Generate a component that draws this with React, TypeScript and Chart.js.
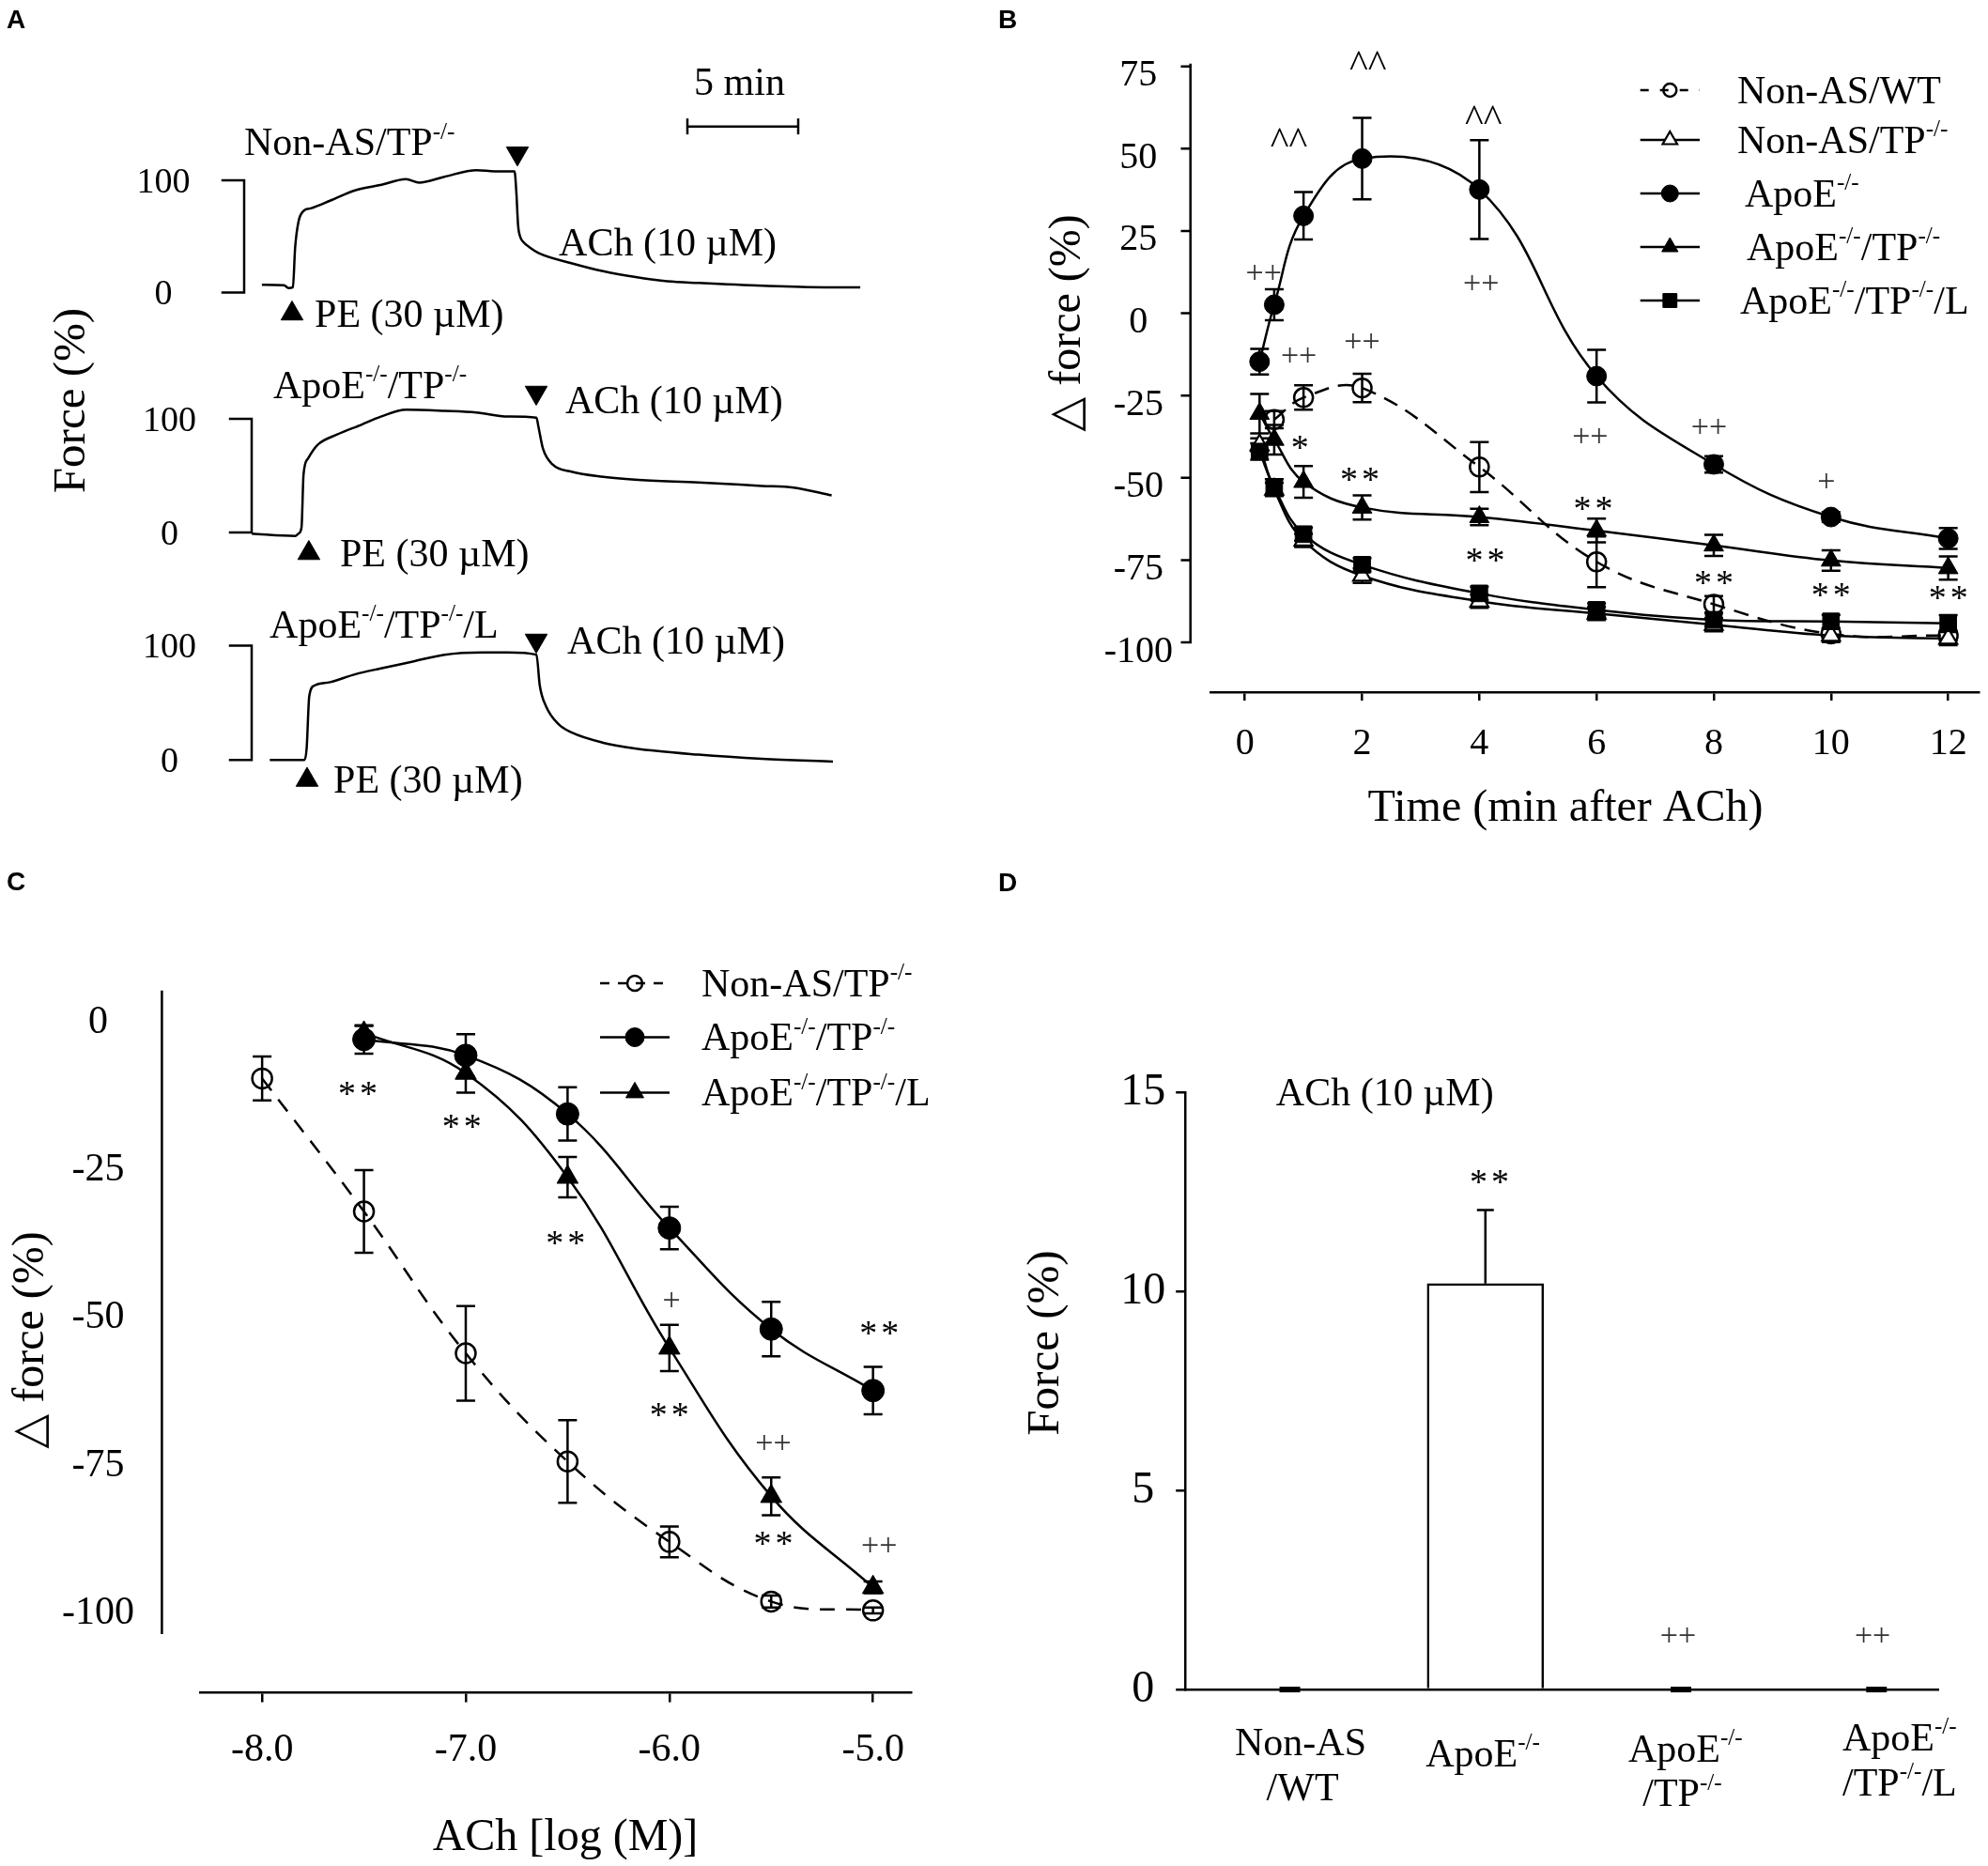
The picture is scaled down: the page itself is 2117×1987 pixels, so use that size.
import React, { useEffect, useRef } from "react";
import { Chart, registerables } from "chart.js";

Chart.register(...registerables);

const PAGE_W = 2117;
const PAGE_H = 1987;
const SERIF = '"Liberation Serif", "Times New Roman", "DejaVu Serif", serif';
const SANS = '"Liberation Sans", Arial, sans-serif';

Chart.defaults.font.family = SERIF;
Chart.defaults.color = "#000";

// ================= Panel A: force traces (time in min, force in %) =================
const aTimeNonAS = [0.8, 1.8, 2.0, 2.2, 2.3, 2.45, 2.7, 3.0, 3.9, 5.0, 6.2, 7.3, 7.9, 9.0, 10.5, 11.3, 12.2, 12.28, 12.36, 12.45, 12.6, 12.9, 13.3, 14.8, 16.2, 17.6, 19.1, 20.5, 23.4, 26.2, 27.8];
const aForceNonAS = [7, 6.5, 4, 4.7, 40, 63, 73, 75, 82, 91, 96, 101, 98, 103, 109, 108, 108, 90, 60, 50, 45, 40, 35, 26, 19, 14, 10, 8.5, 6, 4.7, 4.7];
const aTimeApoE = [0, 1.97, 2.11, 2.25, 2.34, 2.54, 2.97, 3.83, 4.97, 5.83, 6.98, 8.7, 10.13, 11.56, 12.85, 12.94, 13.14, 13.57, 14.43, 15.86, 17.29, 20.16, 23.02, 24.46, 26.17];
const aForceApoE = [-1, -3, -1, 4.6, 51, 65, 77, 86, 95, 102, 108, 107, 105.6, 102, 101, 93, 74, 60, 53.5, 49, 46.5, 44, 41, 39.5, 32.6];
const aTimeApoEL = [0.82, 2.39, 2.48, 2.6, 2.83, 3.54, 4.69, 5.83, 7.27, 8.7, 10.42, 11.56, 12.85, 13.0, 13.28, 13.86, 14.43, 15.86, 17.29, 20.16, 23.02, 26.23];
const aForceApoEL = [0, 0, 10, 56, 65, 68, 75, 80, 86, 92, 94, 94, 92, 65, 47, 31, 24, 15, 10, 4.6, 1, -1.4];
const aTicks = [0, 100];
const aEventRotation = [0, 180];
const aEventTimes1 = [2.16, 12.33];
const aEventLevels1 = [-18.8, 124];
const aEventTimes2 = [2.58, 12.84];
const aEventLevels2 = [-18.2, 123.1];
const aEventTimes3 = [2.5, 12.84];
const aEventLevels3 = [-17.5, 104.4];
const aScaleBarTimes = [20, 25];
const aScaleBarLevels = [148, 148];

// ================= Panel B: time course =================
const bTimes = [0.25, 0.5, 1, 2, 4, 6, 8, 10, 12];
const bWT = [null, -32.3, -25.6, -22.7, -46.7, -75.5, -88.4, -97.4, -97.9];
const bWTErr = [0, 2.6, 3.7, 4.3, 7.6, 7.7, 2.5, 1.5, 1.5];
const bNonTP = [-40, -53.5, -69, -79.7, -87.5, -91.2, -94.6, -97.9, -98.8];
const bNonTPErr = [2, 2, 2, 2.2, 2, 2, 2, 2, 2];
const bApoE = [-14.7, 2.6, 29.6, 47, 37.6, -19.1, -45.9, -61.9, -68.4];
const bApoEErr = [3.9, 4.7, 7.2, 12.4, 15, 8, 2.5, 1.5, 3.2];
const bApoETP = [-30.5, -38.4, -51.2, -59, -61.9, -66, -70.5, -75.1, -77.4];
const bApoETPErr = [6, 4.5, 4.8, 3.7, 2.5, 3.6, 3.2, 3.1, 3.5];
const bApoETPL = [-42, -52.9, -67.1, -76.4, -85.1, -90.1, -93.1, -93.6, -94.2];
const bApoETPLErr = [2.5, 2.5, 2, 2, 2, 2, 2, 2, 2.5];
const bXTicks = [0, 2, 4, 6, 8, 10, 12];
const bYTicks = [75, 50, 25, 0, -25, -50, -75, -100];
const bCaret: [number, number][] = [[0.75, 54.7], [2.1, 78], [4.07, 61.4]];
const bPlus2: [number, number][] = [[0.32, 11.8], [0.92, -13.4], [2.0, -9.0], [4.03, 8.6], [5.89, -37.8], [7.92, -35.1]];
const bPlus1: [number, number][] = [[9.92, -51.5]];
const bStar1: [number, number][] = [[0.94, -39.4]];
const bStar2: [number, number][] = [[1.96, -49.0], [4.1, -73.5], [5.94, -57.9], [8.0, -80.3], [10.0, -84.1], [12.0, -85.0]];

// ================= Panel C: concentration-response =================
const cLogNonAS = [-8, -7.5, -7, -6.5, -6, -5.5, -5];
const cNonAS = [-9.5, -32, -56, -74.3, -87.9, -98, -99.5];
const cNonASErr = [3.7, 7, 8, 7, 2.6, 1, 0.5];
const cLogApoE = [-7.5, -7, -6.5, -6, -5.5, -5];
const cApoETP = [-2.9, -5.6, -15.5, -34.8, -51.9, -62.3];
const cApoETPErr = [2.4, 3.6, 4.5, 3.6, 4.6, 4];
const cApoETPL = [-1.8, -8.6, -26.2, -55.1, -80.2, -95.6];
const cApoETPLErr = [1.2, 3.3, 3.4, 3.9, 3.2, 1];
const cXTicks = [-8, -7, -6, -5];
const cYTicks = [0, -25, -50, -75, -100];
const cStar2: [number, number][] = [[-7.53, -11.2], [-7.02, -16.9], [-6.51, -36.5], [-6.0, -65.6], [-5.49, -87.3], [-4.97, -51.8]];
const cPlus1: [number, number][] = [[-5.99, -47.2]];
const cPlus2: [number, number][] = [[-5.49, -71.4], [-4.97, -88.8]];

// ================= Panel D: bar chart =================
const dCategoryPos = [0, 1, 2, 3];
const dForce = [0, 10.2, 0, 0];
const dForceErr = [0, 1.85, 0, 0];
const dYTicks = [0, 5, 10, 15];
const dStar2: [number, number][] = [[1.02, 12.87]];
const dPlus2: [number, number][] = [[1.985, 1.31], [2.98, 1.31]];

// ================= helpers =================
type Note = {
  text: string; x: number; y: number; size: number;
  align?: "left" | "center" | "right"; k?: number; rot?: number; px?: boolean;
  color?: string; family?: string; weight?: string; ls?: number;
};

function parseRich(s: string) {
  const out: { t: string; sup: boolean }[] = [];
  const re = /\^\{([^}]*)\}/g;
  let last = 0;
  let m: RegExpExecArray | null;
  while ((m = re.exec(s))) {
    if (m.index > last) out.push({ t: s.slice(last, m.index), sup: false });
    out.push({ t: m[1], sup: true });
    last = re.lastIndex;
  }
  if (last < s.length) out.push({ t: s.slice(last), sup: false });
  return out;
}

function drawRich(ctx: any, n: Note, px: number, py: number) {
  const segs = parseRich(n.text);
  const fam = n.family || SERIF;
  const wt = n.weight || "normal";
  const supSize = n.size * 0.6;
  const fonts = segs.map((s) => `${wt} ${s.sup ? supSize : n.size}px ${fam}`);
  ctx.save();
  if (n.ls) ctx.letterSpacing = `${n.ls}px`;
  let total = 0;
  const widths = segs.map((s, i) => {
    ctx.font = fonts[i];
    const w = ctx.measureText(s.t).width;
    total += w;
    return w;
  });
  if (n.ls) total -= n.ls;
  ctx.translate(px, py);
  if (n.rot) ctx.rotate((n.rot * Math.PI) / 180);
  let cx = n.align === "center" ? -total / 2 : n.align === "right" ? -total : 0;
  const base = (n.k ?? 0.33) * n.size;
  ctx.fillStyle = n.color || "#000";
  ctx.textAlign = "left";
  ctx.textBaseline = "alphabetic";
  segs.forEach((s, i) => {
    ctx.font = fonts[i];
    ctx.fillText(s.t, cx, s.sup ? base - n.size * 0.42 : base);
    cx += widths[i];
  });
  ctx.restore();
}

function notesPlugin(items: Note[]) {
  return {
    id: "notes",
    afterDatasetsDraw(chart: any) {
      const ctx = chart.ctx;
      for (const n of items) {
        const px = n.px ? n.x : chart.scales.x.getPixelForValue(n.x);
        const py = n.px ? n.y : chart.scales.y.getPixelForValue(n.y);
        drawRich(ctx, n, px, py);
      }
    },
  };
}

function drawMarker(ctx: any, style: string, x: number, y: number, r: number, fill: string, lw: number) {
  ctx.beginPath();
  if (style === "circle") {
    ctx.arc(x, y, r, 0, Math.PI * 2);
  } else if (style === "triangle") {
    for (let k = 0; k < 3; k++) {
      const a = -Math.PI / 2 + (k * 2 * Math.PI) / 3;
      const px = x + Math.cos(a) * r;
      const py = y + Math.sin(a) * r;
      if (k === 0) ctx.moveTo(px, py);
      else ctx.lineTo(px, py);
    }
    ctx.closePath();
  } else {
    const s = r * Math.SQRT1_2;
    ctx.rect(x - s, y - s, 2 * s, 2 * s);
  }
  ctx.fillStyle = fill;
  ctx.fill();
  ctx.lineWidth = lw;
  ctx.strokeStyle = "#000";
  ctx.stroke();
}

type LegendRow = { ds: number; y: number; text: string; xt: number; r: number; dash?: number[] };
function legendPlugin(rows: LegendRow[], x1: number, x2: number, xm: number, size: number) {
  return {
    id: "customLegend",
    afterDatasetsDraw(chart: any) {
      const ctx = chart.ctx;
      rows.forEach((row) => {
        const ds = chart.data.datasets[row.ds];
        ctx.save();
        ctx.strokeStyle = "#000";
        ctx.lineWidth = ds.borderWidth;
        ctx.setLineDash(row.dash || []);
        ctx.beginPath();
        ctx.moveTo(x1, row.y);
        ctx.lineTo(x2, row.y);
        ctx.stroke();
        ctx.setLineDash([]);
        drawMarker(ctx, ds.pointStyle, xm, row.y, row.r, ds.pointBackgroundColor, ds.pointBorderWidth);
        ctx.restore();
        drawRich(ctx, { text: row.text, x: 0, y: 0, size, align: "left" }, row.xt, row.y);
      });
    },
  };
}

const errorBarPlugin = {
  id: "errorBars",
  beforeDatasetsDraw(chart: any) {
    const ctx = chart.ctx;
    chart.data.datasets.forEach((ds: any, i: number) => {
      if (!ds.errors) return;
      const meta = chart.getDatasetMeta(i);
      const ys = chart.scales[meta.yAxisID];
      ctx.save();
      ctx.strokeStyle = "#000";
      ctx.setLineDash([]);
      ctx.lineCap = "butt";
      meta.data.forEach((el: any, j: number) => {
        const d = ds.data[j];
        if (!d || d.y == null) return;
        const e = ds.errors[j];
        const x = el.x;
        if (!e) {
          if (ds.zeroCap) {
            const y0 = ys.getPixelForValue(d.y);
            ctx.lineWidth = ds.zeroCap.w;
            ctx.beginPath();
            ctx.moveTo(x - ds.zeroCap.half, y0);
            ctx.lineTo(x + ds.zeroCap.half, y0);
            ctx.stroke();
          }
          return;
        }
        const cap = ds.errCap ?? 10;
        ctx.lineWidth = ds.errWidth ?? 2.5;
        const yTop = ys.getPixelForValue(d.y + e);
        const yBot = ds.errDir === "up" ? ys.getPixelForValue(d.y) : ys.getPixelForValue(d.y - e);
        ctx.beginPath();
        ctx.moveTo(x, yTop);
        ctx.lineTo(x, yBot);
        ctx.moveTo(x - cap, yTop);
        ctx.lineTo(x + cap, yTop);
        if (ds.errDir !== "up") {
          ctx.moveTo(x - cap, yBot);
          ctx.lineTo(x + cap, yBot);
        }
        ctx.stroke();
      });
      ctx.restore();
    });
  },
};

function yAxisLinePlugin(x: number, from: number, to: number, ticks: number[], tickLen: number) {
  return {
    id: "yAxisLine",
    beforeDatasetsDraw(chart: any) {
      const ys = chart.scales.y;
      const ctx = chart.ctx;
      ctx.save();
      ctx.strokeStyle = "#000";
      ctx.lineWidth = 2.5;
      ctx.lineCap = "square";
      ctx.beginPath();
      ctx.moveTo(x, ys.getPixelForValue(to));
      ctx.lineTo(x, ys.getPixelForValue(from));
      ticks.forEach((t) => {
        const p = ys.getPixelForValue(t);
        ctx.moveTo(x - tickLen, p);
        ctx.lineTo(x, p);
      });
      ctx.stroke();
      ctx.restore();
    },
  };
}

const pts = (xs: number[], ys: (number | null)[]) => xs.map((x, i) => ({ x, y: ys[i] }));

function baseOptions(l: number, r: number, t: number, b: number) {
  return {
    responsive: false,
    animation: false,
    devicePixelRatio: 1,
    events: [],
    layout: { padding: { left: l, right: r, top: t, bottom: b }, autoPadding: false },
    plugins: { legend: { display: false }, tooltip: { enabled: false } },
  };
}

function series(xs: number[], ys: (number | null)[], errs: number[], o: any) {
  return {
    type: "line",
    data: pts(xs, ys),
    errors: errs,
    errCap: o.cap ?? 10,
    errWidth: 2.5,
    borderColor: "#000",
    borderWidth: 2.5,
    borderDash: o.dash || [],
    tension: 0.4,
    pointStyle: o.style,
    pointRadius: o.r,
    pointBackgroundColor: o.fill,
    pointBorderColor: "#000",
    pointBorderWidth: o.bw ?? 1,
  };
}

const sc = (items: [number, number][], text: string, size: number, k: number, extra: any = {}): Note[] =>
  items.map(([x, y]) => ({ text, x, y, size, k, align: "center", ...extra }));

const STAR = { size: 38, k: 0.46, ls: 4 };
const PLUS = { size: 34, k: 0.26, color: "#333" };

// ================= Panel A charts =================
function traceConfig(opts: {
  times: number[]; force: number[]; evT: number[]; evL: number[];
  left: number; top100: number; zero: number; pad: number; notes: Note[]; scaleBar?: boolean;
}) {
  const datasets: any[] = [
    {
      type: "line",
      data: pts(opts.times, opts.force),
      borderColor: "#000",
      borderWidth: 2.5,
      pointRadius: 0,
      cubicInterpolationMode: "monotone",
      clip: false,
    },
    {
      type: "line",
      data: pts(opts.evT, opts.evL),
      showLine: false,
      pointStyle: "triangle",
      pointRadius: 13.5,
      pointRotation: aEventRotation,
      pointBackgroundColor: "#000",
      pointBorderColor: "#000",
      pointBorderWidth: 1,
      clip: false,
    },
  ];
  if (opts.scaleBar) {
    datasets.push({
      type: "line",
      data: pts(aScaleBarTimes, aScaleBarLevels),
      borderColor: "#000",
      borderWidth: 2.5,
      pointStyle: "line",
      pointRotation: 90,
      pointRadius: 8.5,
      pointBorderWidth: 2.5,
      pointBorderColor: "#000",
      clip: false,
    });
  }
  const yW = 150;
  const yMin = -35;
  const yMax = 165;
  const ppu = (opts.zero - opts.top100) / 100;
  const top = opts.zero - yMax * ppu;
  const bottom = opts.zero - yMin * ppu;
  const right = opts.left + 30 * 23.6;
  return {
    type: "line",
    data: { datasets },
    options: {
      ...baseOptions(opts.left - yW, PAGE_W - right, top, PAGE_H - bottom),
      scales: {
        x: { type: "linear", min: 0, max: 30, display: false },
        y: {
          type: "linear",
          min: yMin,
          max: yMax,
          afterBuildTicks: (s: any) => { s.ticks = aTicks.map((v) => ({ value: v })); },
          afterFit: (s: any) => { s.width = yW; },
          grid: { display: false },
          border: { display: false },
          ticks: { crossAlign: "center", padding: opts.pad + 23, labelOffset: 3, font: { size: 38, family: SERIF }, color: "#000", callback: (v: any) => String(v) },
        },
      },
    },
    plugins: [yAxisLinePlugin(opts.left, 0, 100, aTicks, 23), notesPlugin(opts.notes)],
  };
}

const a1Notes: Note[] = [
  { text: "Non-AS/TP^{-/-}", x: 0.0, y: 134, size: 42 },
  { text: "ACh (10 µM)", x: 14.2, y: 44.8, size: 42 },
  { text: "PE (30 µM)", x: 3.18, y: -18.8, size: 42 },
  { text: "5 min", x: 22.35, y: 188, size: 42, align: "center" },
];
const a2Notes: Note[] = [
  { text: "ApoE^{-/-}/TP^{-/-}", x: 0.97, y: 129.8, size: 42 },
  { text: "ACh (10 µM)", x: 14.15, y: 116.1, size: 42 },
  { text: "PE (30 µM)", x: 3.98, y: -18.2, size: 42 },
  { text: "Force (%)", x: 74, y: 426.5, size: 49, align: "center", rot: -90, px: true },
  { text: "A", x: 7, y: 20, size: 28, weight: "bold", family: SANS, k: 0.36, px: true },
];
const a3Notes: Note[] = [
  { text: "ApoE^{-/-}/TP^{-/-}/L", x: 0.81, y: 118.4, size: 42 },
  { text: "ACh (10 µM)", x: 14.24, y: 104.4, size: 42 },
  { text: "PE (30 µM)", x: 3.69, y: -17.5, size: 42 },
];

// ================= Panel B chart =================
function configB() {
  const datasets = [
    series(bTimes, bApoE, bApoEErr, { style: "circle", r: 10.5, fill: "#000" }),
    series(bTimes, bApoETP, bApoETPErr, { style: "triangle", r: 12, fill: "#000" }),
    series(bTimes, bApoETPL, bApoETPLErr, { style: "rect", r: 12.5, fill: "#000" }),
    series(bTimes, bNonTP, bNonTPErr, { style: "triangle", r: 11, fill: "#fff", bw: 2.2 }),
    series(bTimes, bWT, bWTErr, { style: "circle", r: 10, fill: "rgba(0,0,0,0)", bw: 2.5, dash: [16, 10] }),
  ];
  const notes: Note[] = [
    ...sc(bCaret, "^^", 42, 0.52),
    ...sc(bPlus2, "++", PLUS.size, PLUS.k, { color: PLUS.color }),
    ...sc(bPlus1, "+", PLUS.size, PLUS.k, { color: PLUS.color }),
    ...sc(bStar1, "*", STAR.size, STAR.k),
    ...sc(bStar2, "**", STAR.size, STAR.k, { ls: STAR.ls }),
    { text: "△ force (%)", x: 1134, y: 344, size: 48, align: "center", rot: -90, px: true },
    { text: "Time (min after ACh)", x: 1667, y: 858, size: 48, align: "center", px: true },
    { text: "B", x: 1063, y: 20, size: 28, weight: "bold", family: SANS, k: 0.36, px: true },
  ];
  const legendRows: LegendRow[] = [
    { ds: 4, y: 96, text: "Non-AS/WT", xt: 1850, r: 7, dash: [9, 12] },
    { ds: 3, y: 149, text: "Non-AS/TP^{-/-}", xt: 1850, r: 9 },
    { ds: 0, y: 206, text: "ApoE^{-/-}", xt: 1858, r: 9 },
    { ds: 1, y: 263, text: "ApoE^{-/-}/TP^{-/-}", xt: 1860, r: 10 },
    { ds: 2, y: 320, text: "ApoE^{-/-}/TP^{-/-}/L", xt: 1853, r: 10.5 },
  ];
  const zeroPx = 333.6;
  const ppu = 3.505;
  const top = 69;
  const bottom = 737;
  return {
    type: "line",
    data: { datasets },
    options: {
      ...baseOptions(1289 - 200, PAGE_W - 2108, top, PAGE_H - bottom - 100),
      scales: {
        x: {
          type: "linear",
          min: -0.588,
          max: 12.527,
          afterBuildTicks: (s: any) => { s.ticks = bXTicks.map((v) => ({ value: v })); },
          afterFit: (s: any) => { s.height = 100; },
          grid: { display: true, drawOnChartArea: false, drawTicks: true, tickLength: 9, lineWidth: 2.5, color: "#000" },
          border: { display: true, width: 2.5, color: "#000" },
          ticks: { padding: 22, maxRotation: 0, autoSkip: false, font: { size: 40, family: SERIF }, color: "#000", callback: (v: any) => String(v) },
        },
        y: {
          type: "linear",
          min: (zeroPx - bottom) / ppu,
          max: (zeroPx - top) / ppu,
          afterBuildTicks: (s: any) => { s.ticks = bYTicks.map((v) => ({ value: v })); },
          afterFit: (s: any) => { s.width = 200; },
          grid: { display: false },
          border: { display: false },
          ticks: { crossAlign: "center", padding: 32, labelOffset: 10, autoSkip: false, font: { size: 40, family: SERIF }, color: "#000", callback: (v: any) => String(v) },
        },
      },
    },
    plugins: [
      yAxisLinePlugin(1267.7, -100, 75.5, bYTicks, 9),
      errorBarPlugin,
      notesPlugin(notes),
      legendPlugin(legendRows, 1746.7, 1810, 1778.3, 42),
    ],
  };
}

// ================= Panel C chart =================
function configC() {
  const datasets = [
    series(cLogApoE, cApoETP, cApoETPErr, { style: "circle", r: 12, fill: "#000" }),
    series(cLogApoE, cApoETPL, cApoETPLErr, { style: "triangle", r: 13, fill: "#000" }),
    series(cLogNonAS, cNonAS, cNonASErr, { style: "circle", r: 10.5, fill: "rgba(0,0,0,0)", bw: 2.5, dash: [16, 12] }),
  ];
  const notes: Note[] = [
    ...sc(cStar2, "**", STAR.size, STAR.k, { ls: STAR.ls }),
    ...sc(cPlus1, "+", PLUS.size, PLUS.k, { color: PLUS.color }),
    ...sc(cPlus2, "++", PLUS.size, PLUS.k, { color: PLUS.color }),
    { text: "△ force (%)", x: 30, y: 1427, size: 48, align: "center", rot: -90, px: true },
    { text: "ACh [log (M)]", x: 602, y: 1954, size: 48, align: "center", px: true },
    { text: "C", x: 7, y: 938, size: 28, weight: "bold", family: SANS, k: 0.36, px: true },
  ];
  const legendRows: LegendRow[] = [
    { ds: 2, y: 1047, text: "Non-AS/TP^{-/-}", xt: 747, r: 8, dash: [10, 9] },
    { ds: 0, y: 1104.5, text: "ApoE^{-/-}/TP^{-/-}", xt: 747, r: 10 },
    { ds: 1, y: 1163.4, text: "ApoE^{-/-}/TP^{-/-}/L", xt: 747, r: 11 },
  ];
  const zeroPx = 1088.6;
  const ppu = 6.294;
  const top = 1056;
  const bottom = 1802.6;
  return {
    type: "line",
    data: { datasets },
    options: {
      ...baseOptions(213 - 180, PAGE_W - 970, top, PAGE_H - bottom - 100),
      scales: {
        x: {
          type: "linear",
          min: -8.305,
          max: -4.814,
          afterBuildTicks: (s: any) => { s.ticks = cXTicks.map((v) => ({ value: v })); },
          afterFit: (s: any) => { s.height = 100; },
          grid: { display: true, drawOnChartArea: false, drawTicks: true, tickLength: 10, lineWidth: 2.5, color: "#000" },
          border: { display: true, width: 2.5, color: "#000" },
          ticks: { padding: 26, maxRotation: 0, autoSkip: false, font: { size: 42, family: SERIF }, color: "#000", callback: (v: any) => Number(v).toFixed(1) },
        },
        y: {
          type: "linear",
          min: (zeroPx - bottom) / ppu,
          max: (zeroPx - top) / ppu,
          afterBuildTicks: (s: any) => { s.ticks = cYTicks.map((v) => ({ value: v })); },
          afterFit: (s: any) => { s.width = 180; },
          grid: { display: false },
          border: { display: false },
          ticks: { crossAlign: "center", padding: 62, autoSkip: false, font: { size: 42, family: SERIF }, color: "#000", callback: (v: any) => String(v) },
        },
      },
    },
    plugins: [
      yAxisLinePlugin(172.4, -103.3, 5.18, [], 0),
      errorBarPlugin,
      notesPlugin(notes),
      legendPlugin(legendRows, 639, 713, 676, 42),
    ],
  };
}

// ================= Panel D chart =================
function configD() {
  const notes: Note[] = [
    { text: "ACh (10 µM)", x: 0.486, y: 15.0, size: 42, align: "center" },
    ...sc(dStar2, "**", STAR.size, STAR.k, { ls: STAR.ls }),
    ...sc(dPlus2, "++", PLUS.size, PLUS.k, { color: PLUS.color }),
    { text: "Non-AS", x: 0.055, y: -1.32, size: 42, align: "center" },
    { text: "/WT", x: 0.065, y: -2.45, size: 42, align: "center" },
    { text: "ApoE^{-/-}", x: 0.987, y: -1.6, size: 42, align: "center" },
    { text: "ApoE^{-/-}", x: 2.023, y: -1.49, size: 42, align: "center" },
    { text: "/TP^{-/-}", x: 2.007, y: -2.6, size: 42, align: "center" },
    { text: "ApoE^{-/-}", x: 3.118, y: -1.2, size: 42, align: "center" },
    { text: "/TP^{-/-}/L", x: 3.118, y: -2.34, size: 42, align: "center" },
    { text: "Force (%)", x: 1110.6, y: 1430, size: 49, align: "center", rot: -90, px: true },
    { text: "D", x: 1063, y: 939, size: 28, weight: "bold", family: SANS, k: 0.36, px: true },
  ];
  const left = 1262.2;
  const right = 2064.4;
  const top = 1163.4;
  const bottom = 1799.1;
  return {
    type: "bar",
    data: {
      datasets: [
        {
          data: pts(dCategoryPos, dForce),
          errors: dForceErr,
          errDir: "up",
          errCap: 9,
          errWidth: 2.5,
          zeroCap: { half: 11, w: 6 },
          backgroundColor: "#fff",
          borderColor: "#000",
          borderWidth: 2.5,
          barThickness: 124,
          grouped: false,
        },
      ],
    },
    options: {
      ...baseOptions(left - 150, PAGE_W - right, top, PAGE_H - bottom - 50),
      scales: {
        x: {
          type: "linear",
          min: -0.5346,
          max: 3.3175,
          offset: false,
          afterFit: (s: any) => { s.height = 50; },
          grid: { display: false, offset: false },
          border: { display: true, width: 2.5, color: "#000" },
          ticks: { display: false },
        },
        y: {
          type: "linear",
          min: 0,
          max: 15,
          afterBuildTicks: (s: any) => { s.ticks = dYTicks.map((v) => ({ value: v })); },
          afterFit: (s: any) => { s.width = 150; },
          grid: { display: true, drawOnChartArea: false, drawTicks: true, tickLength: 10, lineWidth: 2.5, color: "#000" },
          border: { display: true, width: 2.5, color: "#000" },
          ticks: { crossAlign: "center", padding: 11, autoSkip: false, font: { size: 48, family: SERIF }, color: "#000", callback: (v: any) => String(v) },
        },
      },
    },
    plugins: [errorBarPlugin, notesPlugin(notes)],
  };
}

const configs: (() => any)[] = [
  () => traceConfig({ times: aTimeNonAS, force: aForceNonAS, evT: aEventTimes1, evL: aEventLevels1, left: 260, top100: 192, zero: 311.5, pad: 26.5, notes: a1Notes, scaleBar: true }),
  () => traceConfig({ times: aTimeApoE, force: aForceApoE, evT: aEventTimes2, evL: aEventLevels2, left: 268, top100: 446, zero: 567, pad: 28, notes: a2Notes }),
  () => traceConfig({ times: aTimeApoEL, force: aForceApoEL, evT: aEventTimes3, evL: aEventLevels3, left: 268, top100: 687.4, zero: 809.2, pad: 28, notes: a3Notes }),
  configB,
  configC,
  configD,
];

export default function App() {
  const refs = [useRef<HTMLCanvasElement>(null), useRef<HTMLCanvasElement>(null), useRef<HTMLCanvasElement>(null), useRef<HTMLCanvasElement>(null), useRef<HTMLCanvasElement>(null), useRef<HTMLCanvasElement>(null)];
  useEffect(() => {
    document.body.style.margin = "0";
    const charts = configs.map((cfg, i) => new Chart(refs[i].current as HTMLCanvasElement, cfg()));
    return () => charts.forEach((c) => c.destroy());
  }, []);
  return (
    <div style={{ position: "absolute", left: 0, top: 0, width: PAGE_W, height: PAGE_H, background: "#fff", overflow: "hidden" }}>
      {refs.map((r, i) => (
        <canvas key={i} ref={r} width={PAGE_W} height={PAGE_H} style={{ position: "absolute", left: 0, top: 0, width: PAGE_W, height: PAGE_H }} />
      ))}
    </div>
  );
}
